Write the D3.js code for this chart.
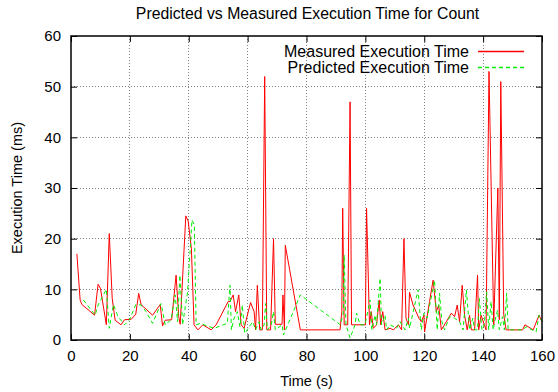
<!DOCTYPE html>
<html>
<head>
<meta charset="utf-8">
<script src="https://cdn.jsdelivr.net/npm/d3@7"></script>
<style>
  html, body { margin: 0; padding: 0; background: #fff; }
  svg { display: block; }
  text { font-family: "Liberation Sans", Arial, Helvetica, sans-serif; fill: #000; }
</style>
</head>
<body>
<svg id="chart" width="558" height="392"></svg>
<script>
// Measured execution time samples: time (s) and value (ms)
const measuredTime = [2,3.1,3.7,8,9.2,10,12,13,14,15,17,18.2,20.5,22,23,23.8,27.7,30.3,31.1,32,34.2,35.7,36.6,37.1,
  39,39.8,40.9,41.8,43.1,44.8,47.6,49.3,53.4,54,55.1,55.9,57,57.8,58.8,61,62.2,62.7,63.3,64.1,65,65.8,66.5,67.8,
  68.8,69.4,71.7,72,72.5,72.8,77.9,91.4,92,92.3,92.8,94,94.8,95.3,100,100.4,101.4,102,102.7,103.8,104.7,105.2,
  105.9,106.7,108.4,109.5,111.2,112.3,113.1,113.8,114.6,115,116.2,118.2,119,119.9,120.1,121.8,123,124.1,124.9,
  125.8,127.5,129.2,130.3,131.2,132,132.9,133.7,134.6,135.4,136,137.1,138.1,138.5,139.3,141,142,143.6,145,145.5,
  146,147,147.8,153.4,154.2,156.2,157,159,160];
const measuredValue = [17,7.9,7,4.9,11,10.2,3,21,8.2,3.9,3,4,4.1,5.1,9.2,7,4.9,7,2.8,3.9,4,12.8,4.6,3.1,
  24.5,23.5,18,3,2,3,2,3,7.6,7.6,8.9,5.6,8.9,3,2.3,7.4,5.6,2,10.8,2,2,52,2,2,
  20,3.1,3.1,8.9,2,18.7,2,2,5.6,26,3,3,47,3,3,26,3,5.6,2.3,3,7.9,3,
  5.6,2,2.3,2,3,2,20,4.3,3,9.4,6.9,4.3,3.6,4.9,1.6,7.6,11.8,5.6,6.9,
  2,3.6,5.3,4.6,6.9,3.6,10.8,4.9,2,4.9,2,2,12.8,2,4.9,2,53,3,30,4,
  51,5,2,2,3,2.3,2,4.9,3.6];

// Predicted execution time samples
const predictedTime = [4.2,8.2,9.2,12,13,14.4,16,18.2,19.9,22,23.8,25.5,27.7,30.6,32,34,35.4,36.2,37,37.9,39.6,
  41.1,41.9,42.5,44.2,45.2,48.6,53.1,54,54.5,55.4,56.5,57.4,58.2,59,59.9,61,61.8,62.7,63.9,64.6,65.6,66.1,66.7,
  68,68.8,69.4,71.7,72.2,77.9,91.5,92.5,92.8,93.4,94.8,96.5,97,98.2,99.9,101.6,102.2,103.3,103.8,105,105.5,
  106.7,107.2,108.4,110.6,111.8,113.5,114.6,115,117.9,119,119.9,121,123.5,124.4,125.2,126,126.9,128.6,130.3,
  132,133.2,134.3,135.4,136.5,137.1,138.1,138.7,139.6,140.4,141.2,141.9,142.7,143.4,144.1,144.9,145.5,146.6,
  147.2,148,148.5,153.4,154.6,158,159,160];
const predictedValue = [7.9,4.9,6.9,10,2.3,7,4.6,3,4,7,6.9,5.6,3.3,7.2,3,4,8.9,3.6,12.8,3,9.5,
  23.7,22.7,3,3.3,3,2.3,3.3,10.8,2,4.3,5.6,2.6,6.9,1.3,2,3,3.6,2,3.6,2,3,7.2,2,
  3,5.6,2,3,1,8.9,3,5.3,16.8,3,0.4,3,5.3,3,3,7.9,2,4.9,3,12.2,3,
  4.9,2,3,2.3,3.6,2,4.3,2.3,9.9,2,5.3,4.3,11.8,2,9.2,3.6,2,4.6,4.3,
  3.6,2,9.9,2,4.3,2,2,8.2,2,3,9.5,2,7.6,2,4,5.9,2,4.6,
  2,9.2,2,2,2.6,1.6,4.9,3.6];

const xTicks = [0, 20, 40, 60, 80, 100, 120, 140, 160];
const yTicks = [0, 10, 20, 30, 40, 50, 60];
const seriesNames = ["Measured Execution Time", "Predicted Execution Time"];
const chartTitle = "Predicted vs Measured Execution Time for Count";
const xTitle = "Time (s)";
const yTitle = "Execution Time (ms)";

const svg = d3.select("#chart");
const W = 558, H = 392;
const m = { left: 71, right: 16, top: 36, bottom: 52 };
const x0 = m.left, x1 = W - m.right, y0 = H - m.bottom, y1 = m.top;

const x = d3.scaleLinear().domain([0, 160]).range([x0, x1]);
const y = d3.scaleLinear().domain([0, 60]).range([y0, y1]);

// Dotted grid
const grid = svg.append("g").attr("stroke", "#808080").attr("stroke-width", 1)
  .attr("stroke-dasharray", "1,2").attr("shape-rendering", "crispEdges");
xTicks.slice(1, -1).forEach(t => {
  grid.append("line").attr("x1", x(t)).attr("x2", x(t)).attr("y1", y0).attr("y2", y1);
});
yTicks.slice(1, -1).forEach(t => {
  grid.append("line").attr("x1", x0).attr("x2", x1).attr("y1", y(t)).attr("y2", y(t));
});

// Axes with inward ticks, mirrored on the opposite sides
const tickLen = 6;
const bottomAxis = svg.append("g").attr("transform", `translate(0,${y0})`)
  .call(d3.axisBottom(x).tickValues(xTicks).tickSize(-tickLen).tickPadding(10));
const topAxis = svg.append("g").attr("transform", `translate(0,${y1})`)
  .call(d3.axisTop(x).tickValues(xTicks).tickSize(-tickLen).tickFormat(""));
const leftAxis = svg.append("g").attr("transform", `translate(${x0},0)`)
  .call(d3.axisLeft(y).tickValues(yTicks).tickSize(-tickLen).tickPadding(10));
const rightAxis = svg.append("g").attr("transform", `translate(${x1},0)`)
  .call(d3.axisRight(y).tickValues(yTicks).tickSize(-tickLen).tickFormat(""));
[bottomAxis, topAxis, leftAxis, rightAxis].forEach(a => {
  a.select(".domain").remove();
  a.selectAll(".tick line").attr("stroke", "#000").attr("stroke-width", 1);
  a.selectAll("text").style("font-family", "'Liberation Sans', Arial, sans-serif")
    .style("font-size", "15px").attr("fill", "#000");
});

// Series lines
const line = d3.line().x(d => x(d[0])).y(d => y(d[1]));
const measured = measuredTime.map((t, i) => [t, measuredValue[i]]);
const predicted = predictedTime.map((t, i) => [t, predictedValue[i]]);

svg.append("path").datum(measured).attr("d", line)
  .attr("fill", "none").attr("stroke", "#ff0000").attr("stroke-width", 1);
svg.append("path").datum(predicted).attr("d", line)
  .attr("fill", "none").attr("stroke", "#00ee00").attr("stroke-width", 1)
  .attr("stroke-dasharray", "4,3");

// Frame
svg.append("rect").attr("x", x0).attr("y", y1).attr("width", x1 - x0).attr("height", y0 - y1)
  .attr("fill", "none").attr("stroke", "#000").attr("stroke-width", 1.5);

// Legend
const legend = svg.append("g");
const legendStyles = [
  { color: "#ff0000", dash: null },
  { color: "#00ee00", dash: "4,3" }
];
seriesNames.forEach((name, i) => {
  const ly = 51.5 + i * 16;
  legend.append("text").attr("x", 469).attr("y", ly).attr("dy", "0.35em")
    .attr("text-anchor", "end").style("font-size", "16px").text(name);
  legend.append("line").attr("x1", 478).attr("x2", 524).attr("y1", ly).attr("y2", ly)
    .attr("stroke", legendStyles[i].color).attr("stroke-width", 1.3)
    .attr("stroke-dasharray", legendStyles[i].dash);
});

// Titles
svg.append("text").attr("x", (x0 + x1) / 2 + 1).attr("y", 13).attr("dy", "0.35em")
  .attr("text-anchor", "middle").style("font-size", "15.8px").text(chartTitle);
svg.append("text").attr("x", (x0 + x1) / 2).attr("y", 381).attr("dy", "0.35em")
  .attr("text-anchor", "middle").style("font-size", "14.5px").text(xTitle);
svg.append("text").attr("transform", `translate(17,${(y0 + y1) / 2}) rotate(-90)`)
  .attr("dy", "0.35em").attr("text-anchor", "middle").style("font-size", "14.5px").text(yTitle);
</script>
</body>
</html>
